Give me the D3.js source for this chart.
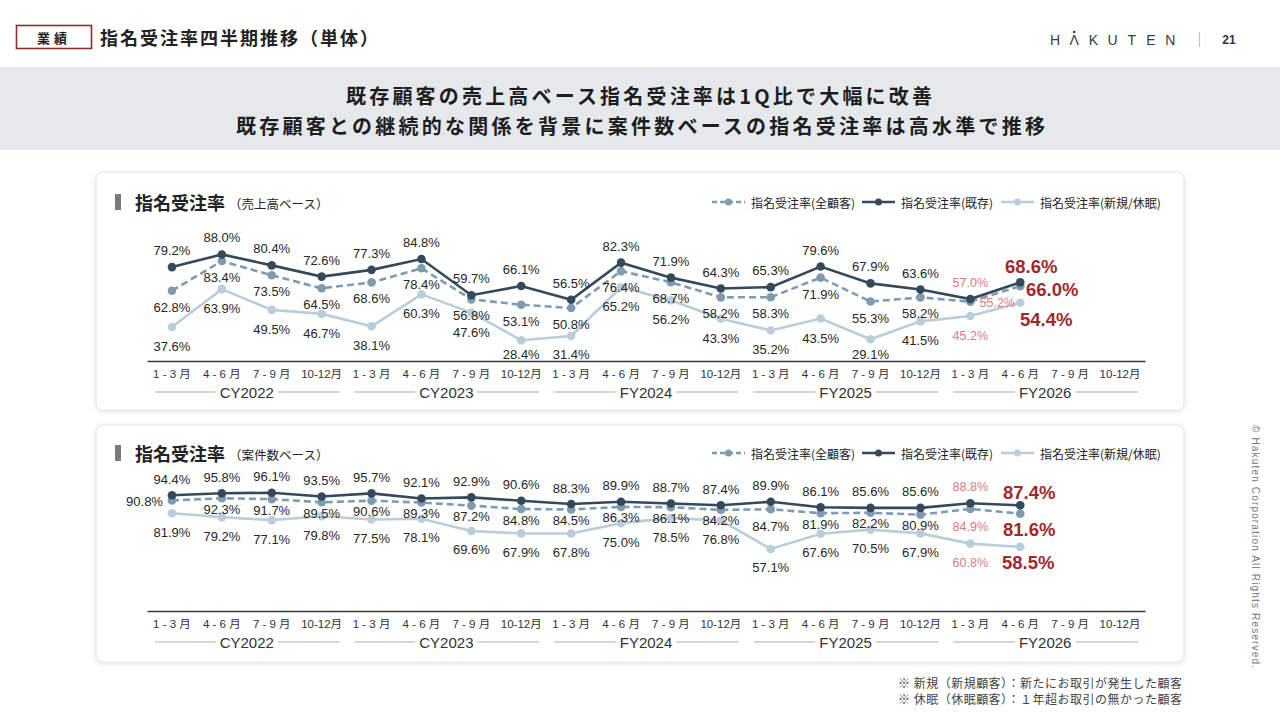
<!DOCTYPE html>
<html>
<head>
<meta charset="utf-8">
<script src="https://cdn.jsdelivr.net/npm/d3@7"></script>
<style>
  body { margin: 0; background: #fff; }
  svg { display: block; font-family: "Liberation Sans", "Noto Sans CJK JP", sans-serif; }
</style>
</head>
<body>
<svg id="chart" width="1280" height="720"></svg>
<script>
// categories
const quarters = ["1 - 3 月", "4 - 6 月", "7 - 9 月", "10-12月"];
const years = ["CY2022", "CY2023", "FY2024", "FY2025", "FY2026"];
const seriesNames = ["指名受注率(全顧客)", "指名受注率(既存)", "指名受注率(新規/休眠)"];

// 売上高ベース
const salesAll      = [62.8, 83.4, 73.5, 64.5, 68.6, 78.4, 56.8, 53.1, 50.8, 76.4, 68.7, 58.2, 58.3, 71.9, 55.3, 58.2, 55.2, 66.0];
const salesExisting = [79.2, 88.0, 80.4, 72.6, 77.3, 84.8, 59.7, 66.1, 56.5, 82.3, 71.9, 64.3, 65.3, 79.6, 67.9, 63.6, 57.0, 68.6];
const salesNew      = [37.6, 63.9, 49.5, 46.7, 38.1, 60.3, 47.6, 28.4, 31.4, 65.2, 56.2, 43.3, 35.2, 43.5, 29.1, 41.5, 45.2, 54.4];

// 案件数ベース
const countAll      = [90.8, 92.3, 91.7, 89.5, 90.6, 89.3, 87.2, 84.8, 84.5, 86.3, 86.1, 84.2, 84.7, 81.9, 82.2, 80.9, 84.9, 81.6];
const countExisting = [94.4, 95.8, 96.1, 93.5, 95.7, 92.1, 92.9, 90.6, 88.3, 89.9, 88.7, 87.4, 89.9, 86.1, 85.6, 85.6, 88.8, 87.4];
const countNew      = [81.9, 79.2, 77.1, 79.8, 77.5, 78.1, 69.6, 67.9, 67.8, 75.0, 78.5, 76.8, 57.1, 67.6, 70.5, 67.9, 60.8, 58.5];

const colors = ["#7f9bb0", "#34495a", "#b9cddb"];
const pink = "#de7a7e";
const red = "#a3282d";
const jp = "'Noto Sans CJK JP', sans-serif";

const svg = d3.select("#chart");

const defs = svg.append("defs");
const flt = defs.append("filter").attr("id", "shadow").attr("x", "-5%").attr("y", "-5%").attr("width", "110%").attr("height", "115%");
flt.append("feDropShadow").attr("dx", 0).attr("dy", 1).attr("stdDeviation", 2)
  .attr("flood-color", "#000").attr("flood-opacity", 0.13);

// header
svg.append("rect").attr("x", 16.5).attr("y", 25.5).attr("width", 75).attr("height", 23)
  .attr("fill", "#fff").attr("stroke", "#8e2c30").attr("stroke-width", 1.6);
svg.append("text").attr("x", 54).attr("y", 37).attr("text-anchor", "middle").attr("dominant-baseline", "central")
  .style("font-family", jp).style("font-size", "13px").style("font-weight", "bold").style("letter-spacing", "4px")
  .attr("fill", "#222").text("業績");
svg.append("text").attr("x", 100).attr("y", 37).attr("dominant-baseline", "central")
  .style("font-family", jp).style("font-size", "18px").style("font-weight", "bold")
  .attr("textLength", 278).attr("lengthAdjust", "spacing")
  .attr("fill", "#222").text("指名受注率四半期推移（単体）");

// logo
const logo = ["H", "Λ", "K", "U", "T", "E", "N"];
svg.append("g").selectAll("text").data(logo).enter().append("text")
  .attr("x", (d, i) => 1055 + i * 19.2).attr("y", 40).attr("text-anchor", "middle").attr("dominant-baseline", "central")
  .style("font-size", "14px").attr("fill", "#3a3a3a").text(d => d);
svg.append("circle").attr("cx", 1074.2).attr("cy", 32).attr("r", 1.3).attr("fill", "#3a3a3a");
svg.append("line").attr("x1", 1199.5).attr("x2", 1199.5).attr("y1", 32).attr("y2", 47).attr("stroke", "#c4c4c4").attr("stroke-width", 1.2);
svg.append("text").attr("x", 1229).attr("y", 40).attr("text-anchor", "middle").attr("dominant-baseline", "central")
  .style("font-size", "12px").style("font-weight", "bold").attr("fill", "#333").text("21");

// banner
svg.append("rect").attr("x", 0).attr("y", 67).attr("width", 1280).attr("height", 83).attr("fill", "#e5e9ec");
svg.append("text").attr("x", 346).attr("y", 95).attr("dominant-baseline", "central")
  .style("font-family", jp).style("font-size", "20px").style("font-weight", "bold")
  .attr("textLength", 586).attr("lengthAdjust", "spacing").attr("fill", "#1e1e1e")
  .text("既存顧客の売上高ベース指名受注率は1Q比で大幅に改善");
svg.append("text").attr("x", 236).attr("y", 125).attr("dominant-baseline", "central")
  .style("font-family", jp).style("font-size", "20px").style("font-weight", "bold")
  .attr("textLength", 809).attr("lengthAdjust", "spacing").attr("fill", "#1e1e1e")
  .text("既存顧客との継続的な関係を背景に案件数ベースの指名受注率は高水準で推移");

// copyright
svg.append("text").attr("transform", "translate(1255,425) rotate(90)").attr("dominant-baseline", "central")
  .style("font-size", "10px").attr("textLength", 243).attr("lengthAdjust", "spacing")
  .attr("fill", "#777").text("© Hakuten Corporation All Rights Reserved.");

// footnotes
const notes = ["※ 新規（新規顧客）：新たにお取引が発生した顧客", "※ 休眠（休眠顧客）：１年超お取引の無かった顧客"];
notes.forEach((t, i) => {
  svg.append("text").attr("x", 898).attr("y", 682 + i * 16.5).attr("dominant-baseline", "central")
    .style("font-family", jp).style("font-size", "12px").attr("fill", "#444")
    .attr("textLength", 284).attr("lengthAdjust", "spacing").text(t);
});

// x categories shared by both charts
const categories = years.flatMap(y => quarters.map(q => y + "|" + q));
const x = d3.scaleBand().domain(categories).range([147, 1145]);

function drawPanel(cfg) {
  const g = svg.append("g");

  g.append("rect").attr("x", 96).attr("y", cfg.top).attr("width", 1088).attr("height", cfg.h)
    .attr("rx", 7).attr("fill", "#fff").attr("stroke", "#e4e4e4").attr("filter", "url(#shadow)");

  // title
  g.append("rect").attr("x", 115).attr("y", cfg.titleY - 8).attr("width", 6).attr("height", 16).attr("fill", "#7a7a7a");
  g.append("text").attr("x", 135).attr("y", cfg.titleY).attr("dominant-baseline", "central")
    .style("font-family", jp).style("font-size", "18px").style("font-weight", "bold").attr("fill", "#222")
    .text("指名受注率");
  g.append("text").attr("x", 229).attr("y", cfg.titleY + 1).attr("dominant-baseline", "central")
    .style("font-family", jp).style("font-size", "12.5px").attr("fill", "#222")
    .text(cfg.subtitle);

  // legend
  const legX = [712, 862, 1001];
  seriesNames.forEach((name, k) => {
    const lg = g.append("g");
    lg.append("line").attr("x1", legX[k]).attr("x2", legX[k] + 33).attr("y1", cfg.titleY).attr("y2", cfg.titleY)
      .attr("stroke", colors[k]).attr("stroke-width", 2.5).attr("stroke-dasharray", k === 0 ? "5,3" : null);
    lg.append("circle").attr("cx", legX[k] + 16.5).attr("cy", cfg.titleY).attr("r", 3.5).attr("fill", colors[k]);
    lg.append("text").attr("x", legX[k] + 39).attr("y", cfg.titleY).attr("dominant-baseline", "central")
      .style("font-family", jp).style("font-size", "12px").attr("fill", "#222").text(name);
  });

  const y = d3.scaleLinear().domain([14, 100]).range([cfg.base, cfg.base - 86 * 1.44]);

  // axis
  const axis = d3.axisBottom(x).tickSize(0).tickFormat(d => d.split("|")[1]);
  const ax = g.append("g").attr("transform", `translate(0,${cfg.base})`).call(axis);
  ax.select(".domain").attr("stroke", "#3a3a3a").attr("stroke-width", 1.6);
  ax.selectAll(".tick text").attr("y", cfg.tickY - cfg.base).attr("dy", "0.35em")
    .style("font-size", "11.5px").style("font-family", "'Liberation Sans', 'Noto Sans CJK JP', sans-serif")
    .attr("fill", "#333");

  // year groups
  years.forEach(yr => {
    const x0 = x(yr + "|" + quarters[0]);
    const x1 = x(yr + "|" + quarters[3]) + x.bandwidth();
    const cx = (x0 + x1) / 2;
    const t = g.append("text").attr("x", cx).attr("y", cfg.groupY).attr("text-anchor", "middle")
      .attr("dominant-baseline", "central").style("font-size", "15px").attr("fill", "#333").text(yr);
    const w = t.node().getComputedTextLength();
    g.append("line").attr("x1", x0 + 8).attr("x2", cx - w / 2 - 4).attr("y1", cfg.groupY).attr("y2", cfg.groupY)
      .attr("stroke", "#ababab").attr("stroke-width", 1);
    g.append("line").attr("x1", cx + w / 2 + 4).attr("x2", x1 - 7).attr("y1", cfg.groupY).attr("y2", cfg.groupY)
      .attr("stroke", "#ababab").attr("stroke-width", 1);
  });

  const px = i => x(categories[i]) + x.bandwidth() / 2;
  const line = d3.line().x((d, i) => px(i)).y(d => y(d));

  // draw light, dashed, dark (dark on top)
  [2, 0, 1].forEach(k => {
    const vals = cfg.series[k];
    g.append("path").datum(vals).attr("d", line).attr("fill", "none").attr("stroke", colors[k])
      .attr("stroke-width", 2.6).attr("stroke-dasharray", k === 0 ? "7,4" : null);
    g.append("g").selectAll("circle").data(vals).enter().append("circle")
      .attr("cx", (d, i) => px(i)).attr("cy", d => y(d)).attr("r", 4.3).attr("fill", colors[k]);
  });

  // labels
  [2, 0, 1].forEach(k => {
    const vals = cfg.series[k];
    g.append("g").selectAll("text").data(vals).enter().append("text")
      .each(function (d, i) {
        const tw = cfg.tweaks.find(t => t.s === k && t.i === i) || {};
        const n = vals.length;
        let ly = y(d) + (tw.dy !== undefined ? tw.dy : cfg.dy[k]);
        if (k === 2 && cfg.maxLabelY) ly = Math.min(ly, cfg.maxLabelY);
        const sel = d3.select(this)
          .attr("x", px(i) + (tw.dx || 0)).attr("y", ly)
          .attr("text-anchor", tw.anchor || "middle").attr("dominant-baseline", "central")
          .text(d.toFixed(1) + "%");
        if (i === n - 1) {
          sel.style("font-size", "18.5px").style("font-weight", "bold").attr("fill", red);
        } else if (i === n - 2) {
          sel.style("font-size", "12.5px").attr("fill", pink);
        } else {
          sel.style("font-size", "13px").attr("fill", "#262626");
        }
      });
  });
}

drawPanel({
  top: 172, h: 238, titleY: 202, base: 361, tickY: 374, groupY: 392,
  subtitle: "（売上高ベース）",
  series: [salesAll, salesExisting, salesNew],
  dy: [16.5, -16.5, 19.5],
  maxLabelY: 354,
  tweaks: [
    { s: 0, i: 16, dx: 27, dy: 1 },
    { s: 1, i: 17, dx: 11, dy: -16 },
    { s: 0, i: 17, dx: 32, dy: 3 },
    { s: 2, i: 17, dx: 26, dy: 17 }
  ]
});

drawPanel({
  top: 425, h: 237, titleY: 453, base: 611, tickY: 624, groupY: 642,
  subtitle: "（案件数ベース）",
  series: [countAll, countExisting, countNew],
  dy: [11, -16, 19],
  tweaks: [
    { s: 0, i: 0, dx: -9, dy: 1, anchor: "end" },
    { s: 0, i: 12, dy: 17 },
    { s: 0, i: 16, dy: 18 },
    { s: 1, i: 17, dx: 9, dy: -13 },
    { s: 0, i: 17, dx: 9, dy: 16 },
    { s: 2, i: 17, dx: 8, dy: 16 }
  ]
});
</script>
</body>
</html>
